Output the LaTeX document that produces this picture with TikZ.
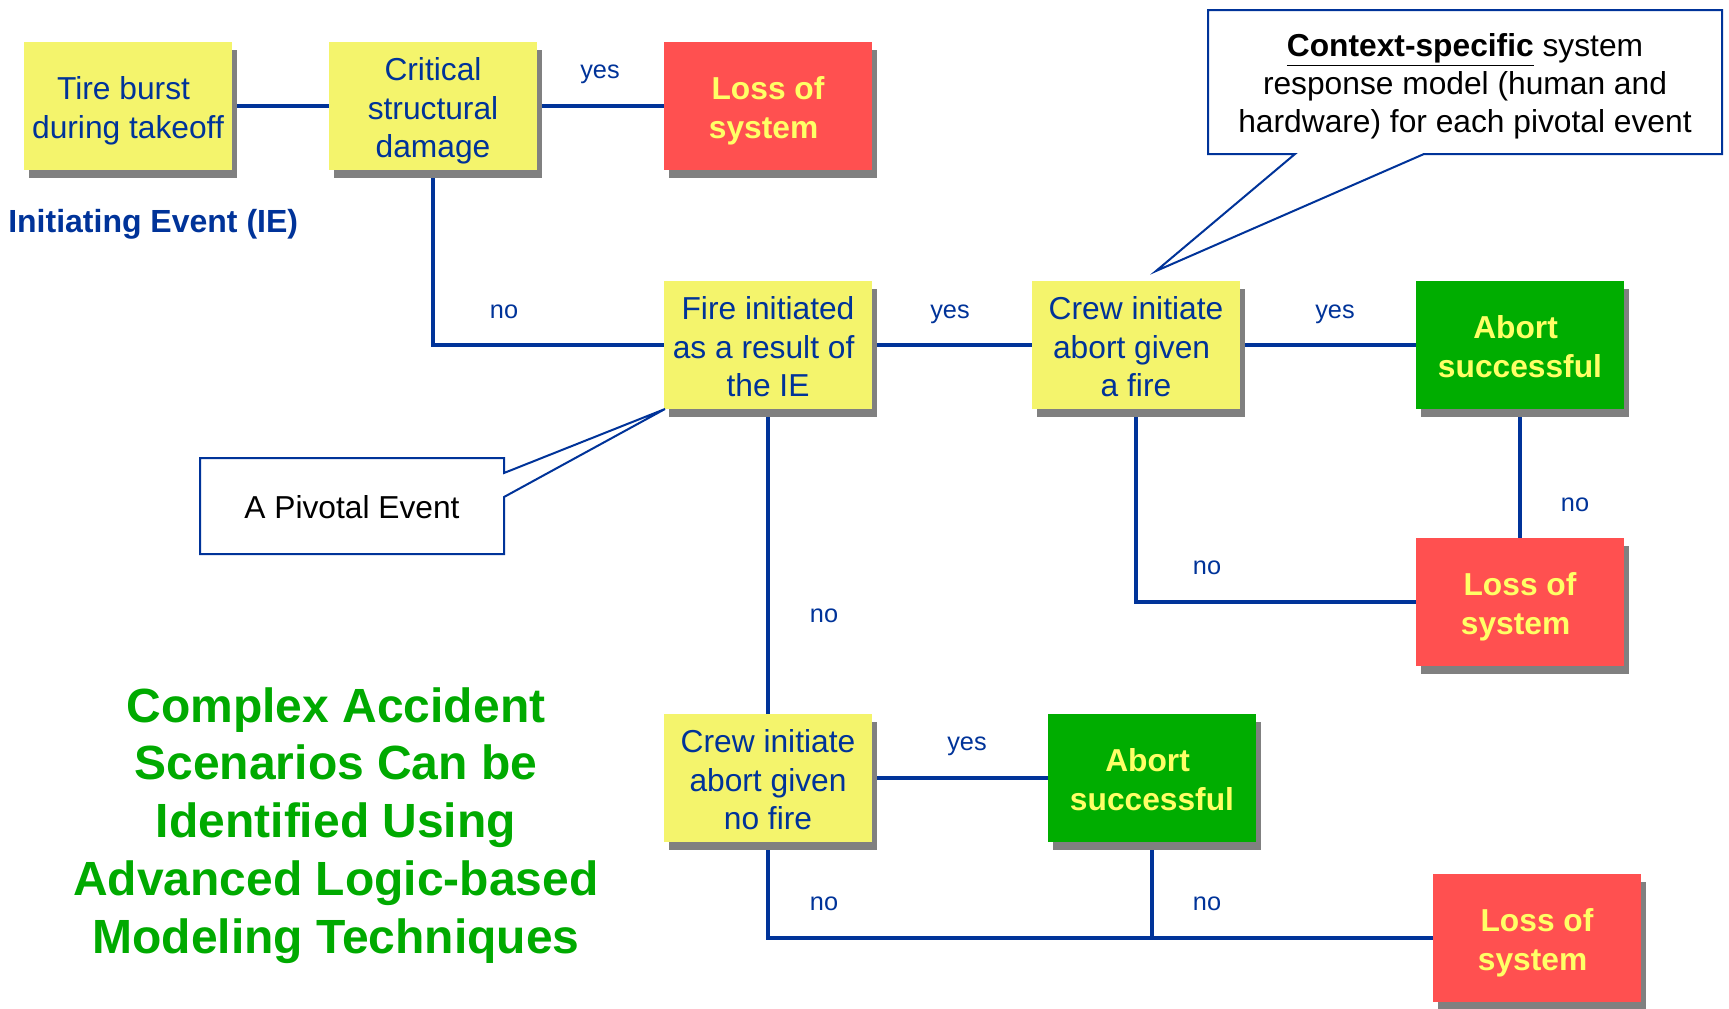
\documentclass[tikz,border=0pt]{standalone}
\usepackage{fontspec}
\setmainfont{Liberation Sans}
\usetikzlibrary{shadows,backgrounds}
\definecolor{navy}{HTML}{003399}
\definecolor{boxyellow}{HTML}{F4F46C}
\definecolor{lossred}{HTML}{FF5050}
\definecolor{abortgreen}{HTML}{00AD00}
\definecolor{txtyellow}{HTML}{FFFF66}
\definecolor{shadowgray}{HTML}{808080}
\definecolor{titlegreen}{HTML}{00AA00}
% box text: first baseline placed relative to node centre
\newcommand\bxii[1]{\raisebox{4.7pt}[0pt][0pt]{\begin{tabular}[t]{@{}c@{}}#1\end{tabular}}}
\newcommand\bxiii[1]{\raisebox{19.2pt}[0pt][0pt]{\begin{tabular}[t]{@{}c@{}}#1\end{tabular}}}
\newcommand\tsp{\kern.278em}
\tikzset{
  evbox/.style={rectangle, inner sep=0pt, minimum width=156pt, minimum height=96pt,
    font=\fontsize{23.8}{29}\selectfont,
    drop shadow={shadow xshift=3.75pt, shadow yshift=-6pt, opacity=1, fill=shadowgray}},
  pivot/.style={evbox, fill=boxyellow, text=navy},
  lossbox/.style={evbox, fill=lossred, text=txtyellow, font=\fontsize{23.8}{29}\selectfont\bfseries},
  abortbox/.style={evbox, fill=abortgreen, text=txtyellow, font=\fontsize{23.8}{29}\selectfont\bfseries},
  conn/.style={draw=navy, line width=2.5pt},
  lbl/.style={text=navy, font=\fontsize{19}{22}\selectfont, inner sep=0pt, text height=9.9pt, text depth=0pt},
  callout/.style={draw=navy, line width=1.5pt, fill=white, line join=miter},
}
\begin{document}
\begin{tikzpicture}[x=0.75pt, y=-0.75pt]
\useasboundingbox (0,0) rectangle (1729,1008);

% event boxes
\node[pivot] (tire) at (128,106) {\bxii{Tire burst\tsp\\during takeoff}};
\node[pivot] (crit) at (433,106) {\bxiii{Critical\\structural\\damage}};
\node[lossbox] (loss1) at (768,106) {\bxii{Loss of\\system\tsp}};
\node[pivot] (fire) at (768,345) {\bxiii{Fire initiated\\as a result of\tsp\\the IE}};
\node[pivot] (crewf) at (1136,345) {\bxiii{Crew initiate\\abort given\tsp\\a fire}};
\node[abortbox] (abort1) at (1520,345) {\bxii{Abort\tsp\\successful}};
\node[lossbox] (loss2) at (1520,602) {\bxii{Loss of\\system\tsp}};
\node[pivot] (crewn) at (768,778) {\bxiii{Crew initiate\\abort given\\no fire}};
\node[abortbox] (abort2) at (1152,778) {\bxii{Abort\tsp\\successful}};
\node[lossbox] (loss3) at (1537,938) {\bxii{Loss of\\system\tsp}};

% connectors (behind boxes)
\begin{pgfonlayer}{background}
\draw[conn] (tire.east) -- (crit.west);
\draw[conn] (crit.east) -- (loss1.west);
\draw[conn] (crit.south) |- (fire.west);
\draw[conn] (fire.east) -- (crewf.west);
\draw[conn] (crewf.east) -- (abort1.west);
\draw[conn] (abort1.south) -- (loss2.north);
\draw[conn] (crewf.south) |- (loss2.west);
\draw[conn] (fire.south) -- (crewn.north);
\draw[conn] (crewn.east) -- (abort2.west);
\draw[conn] (crewn.south) |- (loss3.west);
\coordinate (join) at (abort2.south |- loss3.west);
\draw[conn] (abort2.south) -- (join);
\end{pgfonlayer}

% branch labels
\node[lbl] (l1) at (600,72) {yes};
\node[lbl] (l2) at (504,312) {no};
\node[lbl] (l3) at (950,312) {yes};
\node[lbl] (l4) at (1335,312) {yes};
\node[lbl] (l5) at (1575,505) {no};
\node[lbl] (l6) at (1207,568) {no};
\node[lbl] (l7) at (824,616) {no};
\node[lbl] (l8) at (967,744) {yes};
\node[lbl] (l9) at (824,904) {no};
\node[lbl] (l10) at (1207,904) {no};

% initiating event caption
\node[anchor=west, text=navy, inner sep=0pt, font=\fontsize{24}{28}\selectfont\bfseries] (ie) at (8,224.3) {Initiating Event (IE)};

% callouts
\draw[callout] (1208,10) -- (1722,10) -- (1722,154) -- (1424,154) -- (1156,271) -- (1295,154) -- (1208,154) -- cycle;
\node[align=center, font=\fontsize{23.8}{28.5}\selectfont, inner sep=0pt] (ctx) at (1465,86.3)
  {\underline{\textbf{Context-specific}} system\\response model (human and\\hardware) for each pivotal event};

\draw[callout] (200,458) -- (504,458) -- (504,473) -- (665,409) -- (504,497) -- (504,554) -- (200,554) -- cycle;
\node[font=\fontsize{23.8}{28}\selectfont, inner sep=0pt] (pe) at (352,507) {A Pivotal Event};

% title
\node[align=center, text=titlegreen, inner sep=0pt, font=\fontsize{36}{43.3}\selectfont\bfseries] (title) at (336,825.4)
  {Complex Accident\\Scenarios Can be\\Identified Using\\Advanced Logic-based\\Modeling Techniques};
\end{tikzpicture}
\end{document}
